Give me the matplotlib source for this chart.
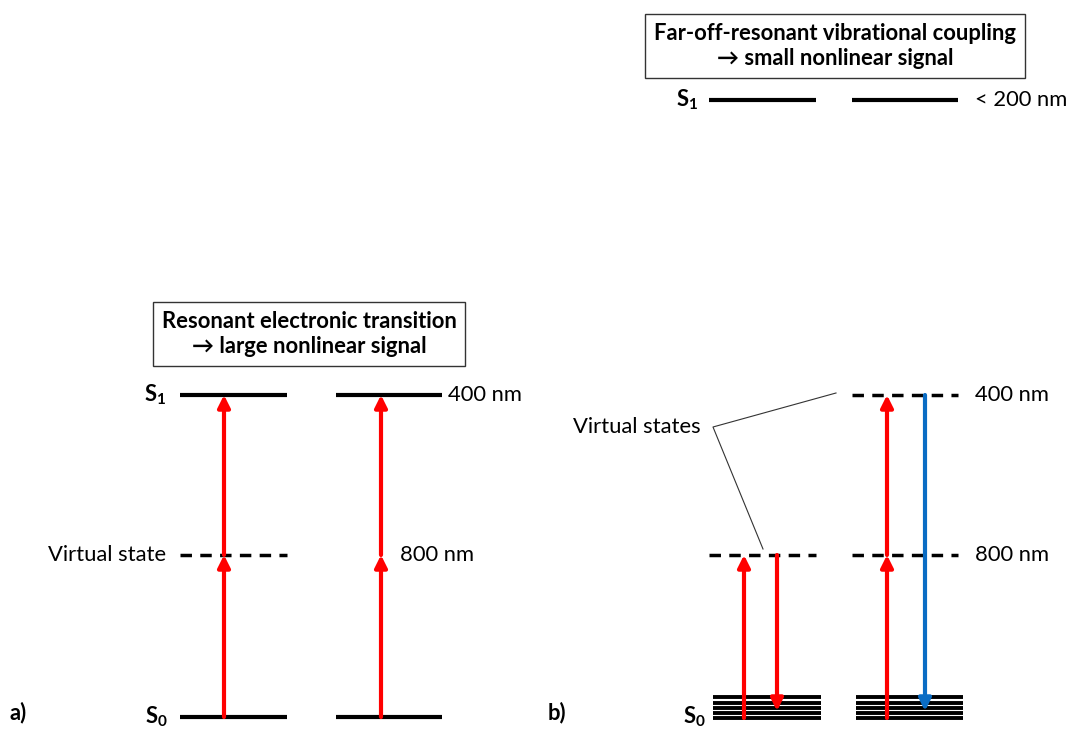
import matplotlib.pyplot as plt

plt.rcParams['font.family'] = ['Lato', 'DejaVu Sans']
plt.rcParams['mathtext.fontset'] = 'custom'
plt.rcParams['mathtext.bf'] = 'Lato:bold'
plt.rcParams['mathtext.rm'] = 'Lato'

RED = '#ff0000'
BLUE = '#0a6cc4'

# energy levels (pixel y positions of the drawing)
y_s1_a, y_virt, y_s0 = 395, 555, 717
y_s1_b = 100
s0_vib = [697, 703, 708, 713, 718]

# columns (x ranges)
cols_a = [(180, 287), (336, 442)]
cols_b = [(709, 816), (852, 958)]

# transitions: (x, y_from, y_to, colour)
arrows_a = [(224, 717, 555, RED), (224, 555, 395, RED),
            (381, 717, 555, RED), (381, 555, 395, RED)]
arrows_b = [(744, 718, 555, RED), (777, 555, 711, RED),
            (887, 718, 555, RED), (887, 555, 395, RED),
            (925, 395, 711, BLUE)]

fig = plt.figure(figsize=(10.67, 7.3), dpi=100)
ax = fig.add_axes([0, 0, 1, 1])
ax.set_xlim(0, 1067)
ax.set_ylim(730, 0)
ax.axis('off')

lw = 3.0
dash = (0, (3.3, 2.4))

# panel a levels
for x0, x1 in cols_a:
    ax.plot([x0, x1], [y_s1_a, y_s1_a], color='black', lw=lw, solid_capstyle='butt')
    ax.plot([x0, x1], [y_s0, y_s0], color='black', lw=lw, solid_capstyle='butt')
ax.plot(cols_a[0], [y_virt, y_virt], color='black', lw=2.5, ls=dash)

# panel b levels
for x0, x1 in cols_b:
    ax.plot([x0, x1], [y_s1_b, y_s1_b], color='black', lw=lw, solid_capstyle='butt')
    ax.plot([x0, x1], [y_virt, y_virt], color='black', lw=2.5, ls=dash)
    for yv in s0_vib:
        ax.plot([x0 + 4, x1 + 5], [yv, yv], color='black', lw=2.8, solid_capstyle='butt')
ax.plot(cols_b[1], [y_s1_a, y_s1_a], color='black', lw=2.5, ls=dash)

for x, ya, yb, c in arrows_a + arrows_b:
    ax.annotate('', xy=(x, yb), xytext=(x, ya),
                arrowprops=dict(arrowstyle='-|>', color=c, lw=3.0,
                                mutation_scale=18, shrinkA=0, shrinkB=0))

fs = 15.8
# labels panel a
ax.text(166, y_s1_a, r'$\mathbf{S_1}$', fontsize=fs, ha='right', va='center')
ax.text(168, y_s0, r'$\mathbf{S_0}$', fontsize=fs, ha='right', va='center')
ax.text(448, y_s1_a, '400 nm', fontsize=fs, ha='left', va='center')
ax.text(400, y_virt, '800 nm', fontsize=fs, ha='left', va='center')
ax.text(166, y_virt, 'Virtual state', fontsize=fs, ha='right', va='center')
ax.text(10, 713, 'a)', fontsize=fs, fontweight='bold', ha='left', va='center')

# labels panel b
ax.text(698, y_s1_b, r'$\mathbf{S_1}$', fontsize=fs, ha='right', va='center')
ax.text(706, y_s0, r'$\mathbf{S_0}$', fontsize=fs, ha='right', va='center')
ax.text(975, y_s1_b, '< 200 nm', fontsize=fs, ha='left', va='center')
ax.text(975, y_s1_a, '400 nm', fontsize=fs, ha='left', va='center')
ax.text(975, y_virt, '800 nm', fontsize=fs, ha='left', va='center')
ax.text(548, 713, 'b)', fontsize=fs, fontweight='bold', ha='left', va='center')
ax.text(701, 427, 'Virtual states', fontsize=fs, ha='right', va='center')
ax.plot([836, 713, 763], [393, 427, 549], color='#333333', lw=0.8)

# boxes
box = dict(boxstyle='square,pad=0.4', facecolor='white', edgecolor='#333333', lw=1.0)
ax.text(309, 334, 'Resonant electronic transition\n\u2192 large nonlinear signal',
        fontsize=fs, fontweight='bold', ha='center', va='center', bbox=box,
        linespacing=1.25)
ax.text(835, 46, 'Far-off-resonant vibrational coupling\n\u2192 small nonlinear signal',
        fontsize=fs, fontweight='bold', ha='center', va='center', bbox=box,
        linespacing=1.25)

fig.savefig('out.png', dpi=100)
